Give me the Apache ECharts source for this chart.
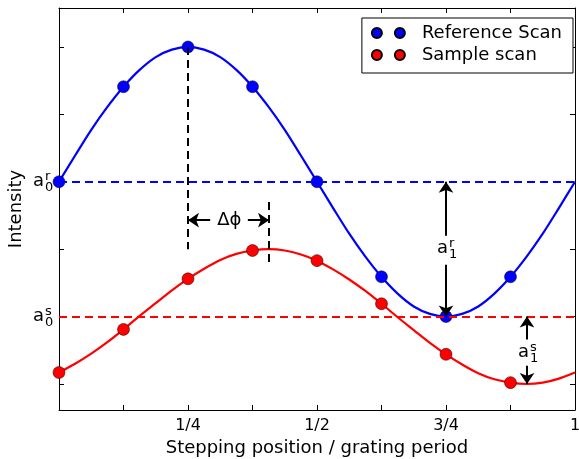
<!DOCTYPE html>
<html>
<head>
<meta charset="utf-8">
<script src="https://cdn.jsdelivr.net/npm/echarts@6/dist/echarts.min.js"></script>
<style>
  html, body { margin: 0; padding: 0; background: #fff; }
  #main { width: 579px; height: 459px; }
</style>
</head>
<body>
<div id="main"></div>
<script>
// 数据：相位步进采样点和拟合曲线
const stepX = [0, 0.125, 0.25, 0.375, 0.5, 0.625, 0.75, 0.875];
const refScan = [3, 4.41, 5, 4.41, 3, 1.59, 1, 1.59];
const sampleScan = [0.17, 0.81, 1.56, 1.98, 1.83, 1.19, 0.44, 0.02];

const curveX = [0, 0.03125, 0.0625, 0.09375, 0.125, 0.15625, 0.1875, 0.21875,
  0.25, 0.28125, 0.3125, 0.34375, 0.375, 0.40625, 0.4375, 0.46875,
  0.5, 0.53125, 0.5625, 0.59375, 0.625, 0.65625, 0.6875, 0.71875,
  0.75, 0.78125, 0.8125, 0.84375, 0.875, 0.90625, 0.9375, 0.96875, 1];
const refCurve = [3, 3.39, 3.77, 4.11, 4.41, 4.66, 4.85, 4.96,
  5, 4.96, 4.85, 4.66, 4.41, 4.11, 3.77, 3.39,
  3, 2.61, 2.23, 1.89, 1.59, 1.34, 1.15, 1.04,
  1, 1.04, 1.15, 1.34, 1.59, 1.89, 2.23, 2.61, 3];
const sampleCurve = [0.17, 0.3, 0.45, 0.62, 0.81, 1.01, 1.2, 1.39,
  1.56, 1.71, 1.84, 1.93, 1.98, 2, 1.98, 1.92,
  1.83, 1.7, 1.55, 1.38, 1.19, 0.99, 0.8, 0.61,
  0.44, 0.29, 0.16, 0.07, 0.02, 0, 0.02, 0.08, 0.17];

const xLabelValues = [0.25, 0.5, 0.75, 1];
const xLabelTexts = ['1/4', '1/2', '3/4', '1'];
const yTickValues = [0, 1, 2, 3, 4, 5];

// 标注用的数值
const a0r = 3;
const a0s = 1;
const phiLeft = 0.25;
const phiRight = 0.407;

const FONT = '"DejaVu Sans", "Noto Sans", sans-serif';
const BLUE = '#0000ff';
const RED = '#ff0000';

const chart = echarts.init(document.getElementById('main'), null, { renderer: 'canvas' });

function pair(xs, ys) {
  return xs.map((x, i) => [x, ys[i]]);
}

function xAxisCfg(pos, showLabel) {
  return {
    type: 'value', position: pos, min: 0, max: 1, interval: 0.125,
    splitLine: { show: false },
    axisLine: { show: true, onZero: false, lineStyle: { color: '#000', width: 1 } },
    axisTick: { show: true, inside: true, length: 5, lineStyle: { color: '#000' } },
    axisLabel: {
      show: showLabel, margin: 8, color: '#000', fontSize: 16, fontFamily: FONT,
      hideOverlap: false,
      formatter: v => {
        const i = xLabelValues.indexOf(v);
        return i >= 0 ? xLabelTexts[i] : '';
      }
    },
    name: showLabel ? 'Stepping position / grating period' : '',
    nameLocation: 'middle', nameGap: 29,
    nameTextStyle: { color: '#000', fontSize: 18, fontFamily: FONT }
  };
}

function yAxisCfg(pos, showName) {
  return {
    type: 'value', position: pos, min: -0.386, max: 5.578,
    splitLine: { show: false },
    axisLine: { show: true, onZero: false, lineStyle: { color: '#000', width: 1 } },
    axisTick: { show: true, inside: true, length: 5, customValues: yTickValues, lineStyle: { color: '#000' } },
    axisLabel: { show: false },
    name: showName ? 'Intensity' : '',
    nameLocation: 'middle', nameGap: 34,
    nameTextStyle: { color: '#000', fontSize: 18, fontFamily: FONT }
  };
}

function seg(x1, y1, x2, y2, style, symbols) {
  return [
    { coord: [x1, y1], symbol: symbols ? symbols[0] : 'none', lineStyle: style },
    { coord: [x2, y2], symbol: symbols ? symbols[1] : 'none' }
  ];
}

const dashBlue = { color: BLUE, width: 2, type: [8, 5] };
const dashRed = { color: RED, width: 2, type: [8, 5] };
const dashBlack = { color: '#000', width: 2, type: [8, 5] };
const arrowStyle = { color: '#000', width: 2, type: 'solid' };

const twoDots = 'path://M0,5a5,5 0 1,0 10,0a5,5 0 1,0 -10,0M23,5a5,5 0 1,0 10,0a5,5 0 1,0 -10,0';

chart.setOption({
  animation: false,
  backgroundColor: '#fff',
  grid: { left: 59, right: 4, top: 8, bottom: 49, containLabel: false, outerBoundsMode: 'none' },
  xAxis: [xAxisCfg('bottom', true), xAxisCfg('top', false)],
  yAxis: [yAxisCfg('left', true), yAxisCfg('right', false)],
  legend: {
    orient: 'vertical', right: 6, top: 18,
    data: ['Reference Scan', 'Sample scan'],
    icon: twoDots, itemWidth: 33, itemHeight: 10, itemGap: 4,
    padding: [6, 11, 9, 9],
    borderColor: '#000', borderWidth: 1, borderRadius: 0, backgroundColor: '#fff',
    textStyle: { color: '#000', fontSize: 18, fontFamily: FONT, padding: [0, 0, 0, 12] }
  },
  series: [
    {
      name: 'guides', type: 'line', data: [], silent: true, z: 1,
      markLine: {
        silent: true, animation: false, symbol: ['none', 'none'], symbolSize: 11,
        label: { show: false },
        emphasis: { disabled: true },
        data: [
          seg(0, a0r, 1, a0r, dashBlue),
          seg(0, a0s, 1, a0s, dashRed),
          seg(phiLeft, 5, phiLeft, 2.0, dashBlack),
          seg(phiRight, 2.7, phiRight, 1.81, dashBlack),
          // Δϕ 箭头
          seg(0.293, 2.43, phiLeft, 2.43, arrowStyle, ['none', 'arrow']),
          seg(0.366, 2.43, phiRight, 2.43, arrowStyle, ['none', 'arrow']),
          // a1r 箭头
          seg(0.75, 2.2, 0.75, a0r, arrowStyle, ['none', 'arrow']),
          seg(0.75, 1.77, 0.75, 1, arrowStyle, ['none', 'arrow']),
          // a1s 箭头
          seg(0.907, 0.66, 0.907, a0s, arrowStyle, ['none', 'arrow']),
          seg(0.907, 0.27, 0.907, 0, arrowStyle, ['none', 'arrow'])
        ]
      }
    },
    {
      name: 'refFit', type: 'line', data: pair(curveX, refCurve), smooth: 0.3,
      showSymbol: false, silent: true, z: 2,
      lineStyle: { color: BLUE, width: 2.2 }
    },
    {
      name: 'sampleFit', type: 'line', data: pair(curveX, sampleCurve), smooth: 0.3,
      showSymbol: false, silent: true, z: 2,
      lineStyle: { color: RED, width: 2.2 }
    },
    {
      name: 'Reference Scan', type: 'scatter', data: pair(stepX, refScan),
      symbolSize: 12, clip: false, z: 3,
      itemStyle: { color: BLUE, borderColor: '#000', borderWidth: 0.5, opacity: 1 }
    },
    {
      name: 'Sample scan', type: 'scatter', data: pair(stepX, sampleScan),
      symbolSize: 12, clip: false, z: 3,
      itemStyle: { color: RED, borderColor: '#000', borderWidth: 0.5, opacity: 1 }
    }
  ]
});

// a 加上下标的标签
function aLabel(px, py, sup, sub) {
  const f = s => s + 'px ' + FONT;
  const st = (text, size) => ({
    text, font: f(size), fill: '#000',
    align: 'left', verticalAlign: 'middle', textAlign: 'left', textVerticalAlign: 'middle'
  });
  return {
    type: 'group', x: px, y: py, silent: true, z: 10,
    children: [
      { type: 'text', x: 0, y: 0, style: st('a', 18) },
      { type: 'text', x: 12, y: -5, style: st(sup, 13) },
      { type: 'text', x: 12, y: 6, style: st(sub, 13) }
    ]
  };
}

const toPx = (x, y) => chart.convertToPixel({ xAxisIndex: 0, yAxisIndex: 0 }, [x, y]);

const pR0 = toPx(0, a0r);
const pS0 = toPx(0, a0s);
const pR1 = toPx(0.75, 2.01);
const pS1 = toPx(0.907, 0.47);
const pPhi = toPx(0.33, 2.43);

chart.setOption({
  graphic: [
    aLabel(pR0[0] - 26, pR0[1], 'r', '0'),
    aLabel(pS0[0] - 26, pS0[1], 's', '0'),
    aLabel(pR1[0] - 9, pR1[1], 'r', '1'),
    aLabel(pS1[0] - 9, pS1[1], 's', '1'),
    {
      type: 'text', x: pPhi[0], y: pPhi[1], silent: true, z: 10,
      style: { text: 'Δϕ', font: '18px ' + FONT, fill: '#000', align: 'center', verticalAlign: 'middle', textAlign: 'center', textVerticalAlign: 'middle' }
    }
  ]
});
</script>
</body>
</html>
